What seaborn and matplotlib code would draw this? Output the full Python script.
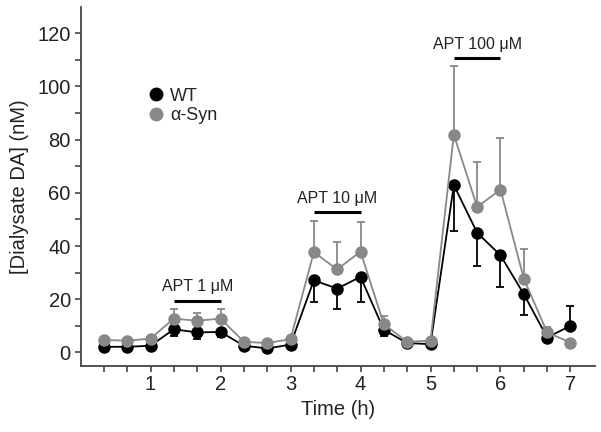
import numpy as np
import pandas as pd
import matplotlib
matplotlib.use('Agg')
import matplotlib.pyplot as plt
import seaborn as sns

# data (time in h, dialysate DA in nM)
time_h = [1/3, 2/3, 1, 4/3, 5/3, 2, 7/3, 8/3, 3, 10/3, 11/3, 4, 13/3, 14/3, 5,
          16/3, 17/3, 6, 19/3, 20/3, 7]
wt_mean = [2.1, 2.1, 2.5, 8.7, 7.5, 7.7, 2.5, 1.5, 2.9, 27.1, 24.0, 28.4, 8.5, 3.5, 3.1,
           62.9, 45.0, 36.5, 21.9, 5.6, 10.0]
wt_err_lo = [0, 0, 0, 2.5, 2.3, 1.9, 0, 0, 0, 8.1, 7.8, 9.3, 2.3, 0, 0,
             17.2, 12.5, 11.8, 7.9, 1.5, 0]
wt_err_hi = [0, 0, 0, 0, 0, 0, 0, 0, 0, 0, 0, 0, 0, 0, 0,
             0, 0, 0, 0, 0, 7.5]
syn_mean = [4.7, 4.4, 5.2, 12.7, 11.9, 12.7, 4.0, 3.5, 5.0, 37.7, 31.2, 37.9, 10.6, 4.0, 4.4,
            81.9, 54.7, 61.2, 27.7, 7.5, 3.7]
syn_err_hi = [0, 0, 0, 3.5, 3.1, 3.5, 0, 0, 0, 11.7, 10.4, 11.2, 3.1, 0, 0,
              25.8, 17.0, 19.4, 11.0, 2.2, 0]

treatments = ['APT 1 \u03bcM', 'APT 10 \u03bcM', 'APT 100 \u03bcM']
treat_start = [4/3, 10/3, 16/3]
treat_end = [2, 4, 6]
treat_bar_y = [19.4, 52.7, 110.6]

df = pd.DataFrame({
    'Time (h)': time_h * 2,
    'DA': wt_mean + syn_mean,
    'Group': ['WT'] * len(time_h) + ['\u03b1-Syn'] * len(time_h),
})

sns.set_theme(style='ticks')
plt.rcParams['font.family'] = ['Liberation Sans', 'DejaVu Sans']

fig = plt.figure(figsize=(6.01, 4.32), dpi=100)
ax = fig.add_axes([0.134, 0.1535, 0.856, 0.831])

colors = {'WT': 'black', '\u03b1-Syn': '#888888'}

# error bars first (one-sided as in the original)
ax.errorbar(time_h, wt_mean, yerr=[wt_err_lo, wt_err_hi], fmt='none',
            ecolor='black', elinewidth=1.3, capsize=3, capthick=1.3, zorder=2)
ax.errorbar(time_h, syn_mean, yerr=[np.zeros(len(syn_err_hi)), syn_err_hi], fmt='none',
            ecolor='#888888', elinewidth=1.3, capsize=3, capthick=1.3, zorder=2)

sns.lineplot(data=df, x='Time (h)', y='DA', hue='Group', palette=colors,
             marker='o', markersize=9, markeredgewidth=0, linewidth=1.3,
             ax=ax, zorder=3, legend=True)

# treatment bars and labels
for name, x0, x1, yb in zip(treatments, treat_start, treat_end, treat_bar_y):
    ax.plot([x0, x1], [yb, yb], color='black', lw=2.2, solid_capstyle='butt')
    ax.text((x0 + x1) / 2, yb + 2.5, name, ha='center', va='bottom', fontsize=11.5,
            color='#222222')

ax.set_xlim(0, 7.35)
ax.set_ylim(-5, 130)
ax.set_xticks(range(1, 8))
ax.set_xticks(time_h, minor=True)
ax.set_yticks(range(0, 121, 20))
ax.set_yticks(range(10, 121, 20), minor=True)
ax.tick_params(which='both', direction='out', length=4, width=1.2, color='#444444',
               labelsize=14.5, pad=3, labelcolor='#222222')
for s in ['top', 'right']:
    ax.spines[s].set_visible(False)
for s in ['left', 'bottom']:
    ax.spines[s].set_color('#444444')
    ax.spines[s].set_linewidth(1.3)

ax.set_xlabel('Time (h)', fontsize=14.5, labelpad=4, color='#222222')
ax.set_ylabel('[Dialysate DA] (nM)', fontsize=14.5, labelpad=6, color='#222222')

ax.legend(loc='upper left', bbox_to_anchor=(0.118, 0.80), frameon=False,
          fontsize=13, handlelength=0.6, handletextpad=0.5, labelspacing=0.15,
          borderpad=0)
for line in ax.get_legend().get_lines():
    line.set_linestyle('none')
    line.set_markersize(10)

fig.savefig('out.png', dpi=100)
